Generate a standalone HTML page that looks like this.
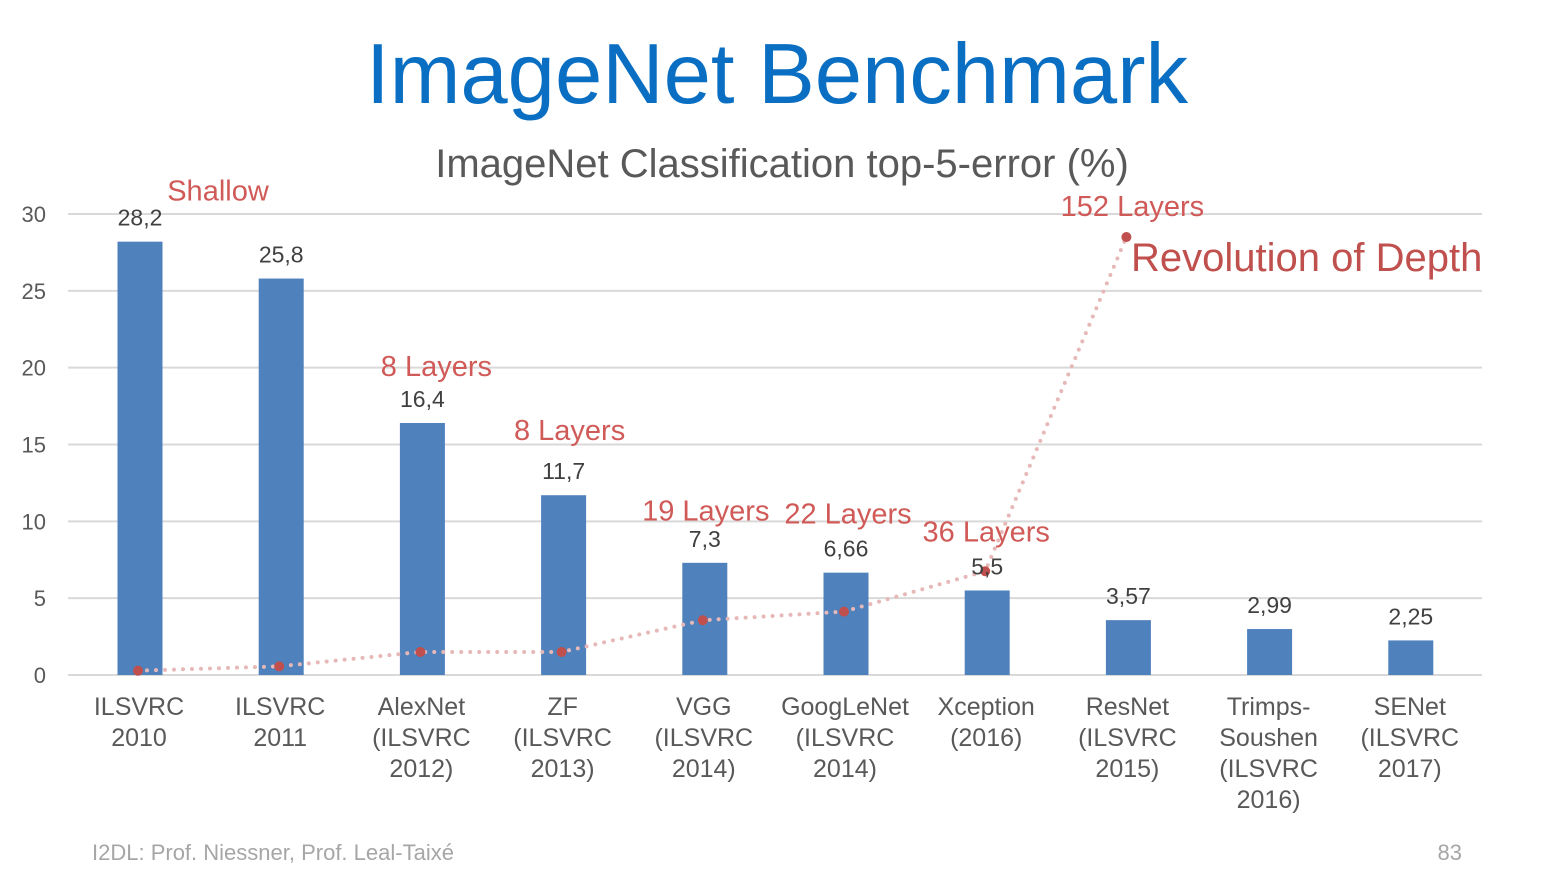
<!DOCTYPE html>
<html><head><meta charset="utf-8"><style>
body{margin:0;background:#fff;}
svg{display:block;font-family:"Liberation Sans",sans-serif;}
</style></head><body>
<svg id="c" width="1555" height="871" viewBox="0 0 1555 871">
<text x="777" y="103" text-anchor="middle" font-size="85" fill="#0a6fc2">ImageNet Benchmark</text>
<text x="782" y="177" text-anchor="middle" font-size="40" fill="#595959">ImageNet Classification top-5-error (%)</text>
<text x="92" y="860" font-size="22" fill="#a6a6a6">I2DL: Prof. Niessner, Prof. Leal-Taixé</text>
<text x="1462" y="860" text-anchor="end" font-size="22" fill="#a6a6a6">83</text>
<g id="grid"></g><g id="bars"></g><g id="line"></g><g id="labels"></g>
</svg>
<script>
const categories=[["ILSVRC","2010"],["ILSVRC","2011"],["AlexNet","(ILSVRC","2012)"],["ZF","(ILSVRC","2013)"],["VGG","(ILSVRC","2014)"],["GoogLeNet","(ILSVRC","2014)"],["Xception","(2016)"],["ResNet","(ILSVRC","2015)"],["Trimps-","Soushen","(ILSVRC","2016)"],["SENet","(ILSVRC","2017)"]];
const errors=[28.2,25.8,16.4,11.7,7.3,6.66,5.5,3.57,2.99,2.25];
const errorLabels=["28,2","25,8","16,4","11,7","7,3","6,66","5,5","3,57","2,99","2,25"];
const layers=[1.5,3,8,8,19,22,36,152];
const layerLabels=["Shallow","","8 Layers","8 Layers","19 Layers","22 Layers","36 Layers","152 Layers"];
const yTicks=[0,5,10,15,20,25,30];
const NS="http://www.w3.org/2000/svg";
const y0=675,yTop=214,xL=68,xR=1482;
const y=v=>y0-(v/30)*(y0-yTop);
const y2=v=>y0-(v/160)*(y0-yTop);
const x=i=>140+i*141.2;
function mk(tag,attrs,parent,text){const e=document.createElementNS(NS,tag);for(const k in attrs)e.setAttribute(k,attrs[k]);if(text!==undefined)e.textContent=text;document.getElementById(parent).appendChild(e);return e;}
yTicks.forEach(t=>{
 const l=mk('line',{x1:xL,x2:xR,y1:y(t),y2:y(t),stroke:'#d9d9d9','stroke-width':2},'grid');
 
 
 const tx=mk('text',{x:46,y:y(t)+8,'text-anchor':'end','font-size':22,fill:'#595959'},'grid',String(t));
 
 
});
errors.forEach((v,i)=>{
 const r=mk('rect',{x:x(i)-22.5,y:y(v),width:45,height:y0-y(v),fill:'#4f81bd'},'bars');
 
 
 const t=mk('text',{x:x(i),y:y(v)-16,'text-anchor':'middle','font-size':23,fill:'#404040'},'labels',errorLabels[i]);
 
 
 const g=mk('text',{'text-anchor':'middle','font-size':25,fill:'#595959'},'labels');
 
 
 categories[i].forEach((s,j)=>{const ts=document.createElementNS(NS,'tspan');ts.setAttribute('x',x(i)-1);ts.setAttribute('y',715+j*31);ts.textContent=s;g.appendChild(ts);});
});
const pts=layers.map((v,i)=>[x(i)-2,y2(v)]);
const pl=mk('polyline',{points:pts.map(p=>p.join(',')).join(' '),fill:'none',stroke:'#e6b8b7','stroke-width':4,'stroke-dasharray':'0 9','stroke-linecap':'round'},'line');


const lblOff=[[80,-470],[0,0],[16,-276],[8,-212],[3,-100],[4,-88],[1,-30],[6,-21]];
pts.forEach((p,i)=>{
 const c=mk('circle',{cx:p[0],cy:p[1],r:5,fill:'#c0504d'},'line');
 
 
 if(layerLabels[i]){
  const t=mk('text',{x:p[0]+lblOff[i][0],y:p[1]+lblOff[i][1],'text-anchor':'middle','font-size':29,fill:'#d05a57'},'labels',layerLabels[i]);
  
  
 }
});
const rev=mk('text',{x:1131,y:271,'font-size':40,fill:'#c0504d'},'labels','Revolution of Depth');


</script>
</body></html>
